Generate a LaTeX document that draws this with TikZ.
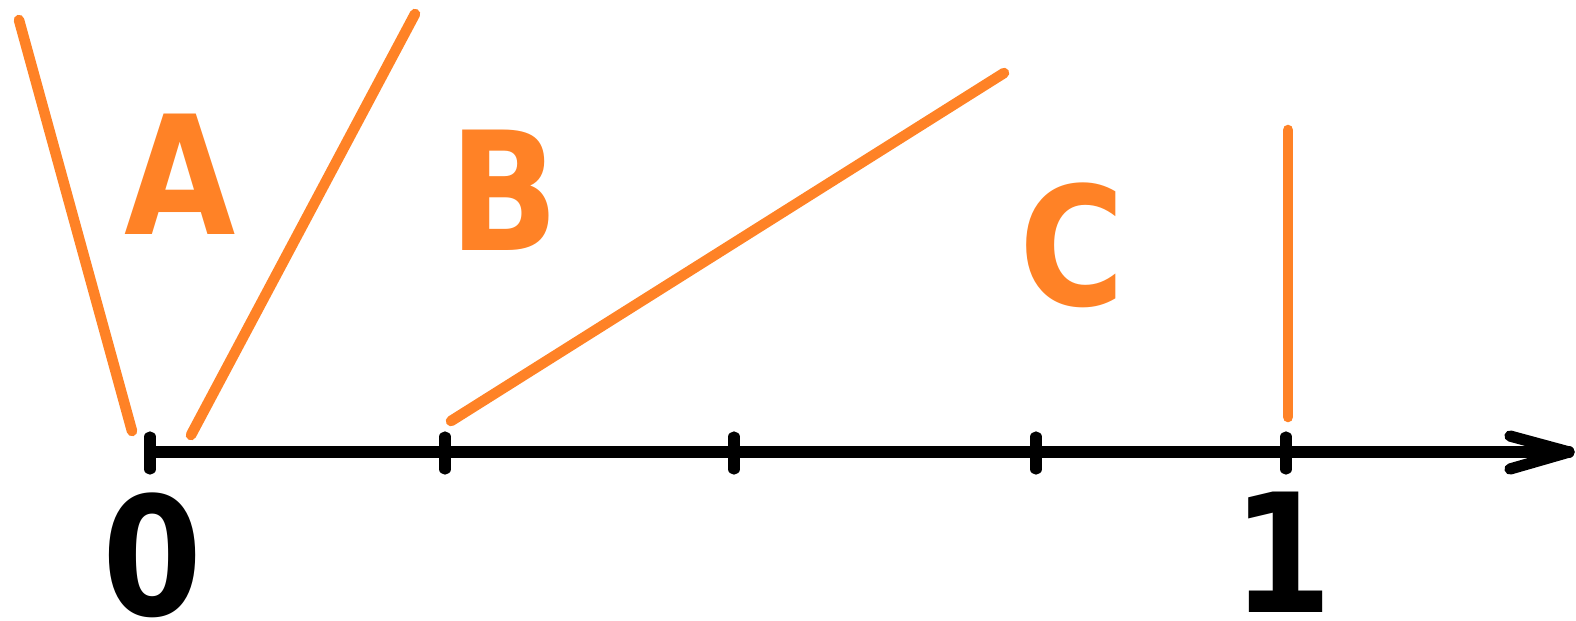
\documentclass[tikz,border=0pt]{standalone}
\usepackage{fontspec}
\setmainfont[FakeStretch=0.87]{DejaVu Sans}
\definecolor{lineorange}{RGB}{255,130,38}
\begin{document}
\begin{tikzpicture}[x=0.01cm,y=-0.01cm,
  axisline/.style={line width=3.2pt,black,line cap=round,line join=round},
  orangeline/.style={line width=3.0pt,lineorange,line cap=round},
  orangelabel/.style={inner sep=0pt,text=lineorange,font=\fontsize{47pt}{50pt}\selectfont\bfseries},
  numlabel/.style={inner sep=0pt,text=black,font=\fontsize{47pt}{50pt}\selectfont\bfseries}]
\useasboundingbox (0,0) rectangle (1576,620);
% axis
\coordinate (o) at (150,452);
\coordinate (tip) at (1569,452);
\coordinate (bu) at (1510,436);
\coordinate (bd) at (1510,469);
\draw[axisline] (o) -- (tip);
\draw[axisline] (bu) -- (tip) -- (bd);
\foreach \x/\n in {150/t0,445/t1,734/t2,1036/t3,1286/t4}{
  \coordinate (\n a) at (\x,437);
  \coordinate (\n b) at (\x,469);
  \draw[axisline] (\n a) -- (\n b);
}
% orange lines
\coordinate (l1a) at (19,20);
\coordinate (l1b) at (132,431);
\coordinate (l2a) at (415,14);
\coordinate (l2b) at (191,435);
\coordinate (l3a) at (1004,73);
\coordinate (l3b) at (451,421);
\coordinate (l4a) at (1288,130);
\coordinate (l4b) at (1288,417);
\draw[orangeline] (l1a) -- (l1b);
\draw[orangeline] (l2a) -- (l2b);
\draw[orangeline] (l3a) -- (l3b);
\draw[orangeline] (l4a) -- (l4b);
% labels
\node[orangelabel] (A) at (180,174) {A};
\node[orangelabel] (B) at (504,190) {B};
\node[orangelabel] (C) at (1072,245) {C};
\node[numlabel] (zero) at (153,555) {0};
\node[numlabel] (one) at (1283,552) {1};
\end{tikzpicture}
\end{document}
